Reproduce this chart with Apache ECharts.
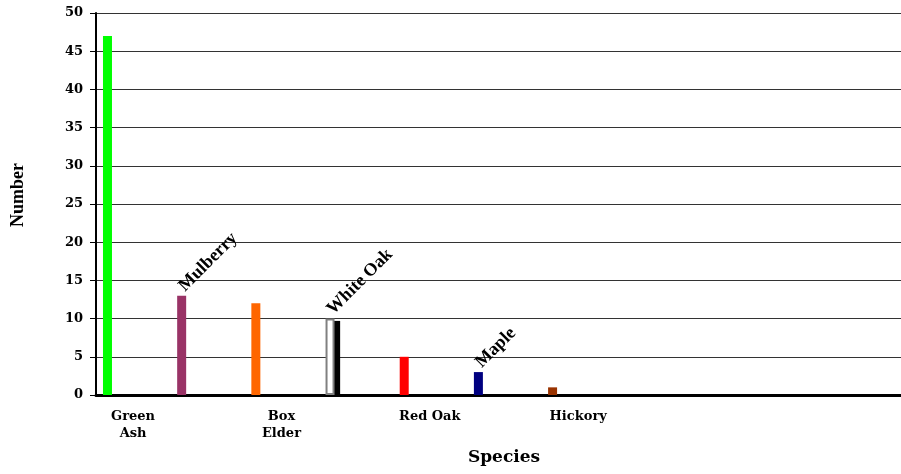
<!DOCTYPE html>
<html>
<head>
<meta charset="utf-8">
<script src="https://cdn.jsdelivr.net/npm/echarts@6/dist/echarts.min.js"></script>
<style>html,body{margin:0;padding:0;background:#fff;overflow:hidden;}#c{width:901px;height:474px;}</style>
</head>
<body>
<div id="c"></div>
<script>
var axisLabels = ['Green\nAsh', '', 'Box\nElder', '', 'Red Oak', '', 'Hickory', '', '', '', ''];
var species = ['Green Ash', 'Mulberry', 'Box Elder', 'White Oak', 'Red Oak', 'Maple', 'Hickory'];
var counts = [47, 13, 12, 10, 5, 3, 1];
var barColors = ['#00ff00', '#993366', '#ff6600', '#ffffff', '#ff0000', '#000080', '#993300'];
var topLabels = ['', 'Mulberry', '', 'White Oak', '', 'Maple', ''];
var yTicks = [0, 5, 10, 15, 20, 25, 30, 35, 40, 45, 50];

var serif = '"Liberation Serif", "Times New Roman", serif';
var wideSerif = '"DejaVu Serif", serif';
var cats = axisLabels.map(function (l, i) { return 'c' + i; });
var data = cats.map(function (c, i) {
  if (i >= counts.length) return null;
  var item = { value: counts[i], name: species[i], itemStyle: { color: barColors[i] } };
  if (species[i] === 'White Oak') {
    item.itemStyle = { color: '#ffffff', borderColor: '#808080', borderWidth: 2 };
  }
  item.label = { show: !!topLabels[i], formatter: topLabels[i] };
  return item;
});
// shadow behind the White Oak bar
var shadowData = cats.map(function (c, i) {
  return species[i] === 'White Oak' ? counts[i] : null;
});

var chart = echarts.init(document.getElementById('c'), null, { renderer: 'canvas' });
chart.setOption({
  animation: false,
  backgroundColor: '#fff',
  grid: { left: 96, top: 13, width: 816, height: 382, containLabel: false, outerBoundsMode: 'none' },
  xAxis: {
    type: 'category', data: cats,
    axisLine: { lineStyle: { color: '#000', width: 3 } },
    axisTick: { show: false },
    axisLabel: {
      interval: 0, margin: 13, color: '#000', fontFamily: wideSerif, fontWeight: 'bold', fontSize: 13, lineHeight: 17,
      verticalAlign: 'top',
      formatter: function (v, i) { return axisLabels[i]; }
    },
    name: 'Species', nameLocation: 'middle', nameGap: 54,
    nameTextStyle: { color: '#000', fontFamily: wideSerif, fontWeight: 'bold', fontSize: 17 }
  },
  yAxis: {
    type: 'value', min: 0, max: 50, interval: 5,
    axisLine: { show: true, lineStyle: { color: '#000', width: 2 } },
    axisTick: { show: true, length: 6, lineStyle: { color: '#000', width: 1 } },
    axisLabel: { margin: 13, color: '#000', fontFamily: wideSerif, fontWeight: 'bold', fontSize: 13,
      formatter: function (v) { return yTicks.indexOf(v) >= 0 ? String(v) : ''; } },
    splitLine: { show: true, lineStyle: { color: '#333', width: 1 } },
    name: 'Number', nameLocation: 'middle', nameGap: 69, nameRotate: 90,
    nameTextStyle: { color: '#000', fontFamily: serif, fontWeight: 'bold', fontSize: 18, padding: [0, 0, 0, 18] }
  },
  series: [
    {
      type: 'bar', data: data, barWidth: 9, barGap: '469%', z: 3,
      label: { show: true, position: 'top', distance: 7, rotate: 45, align: 'left', verticalAlign: 'middle',
        color: '#000', fontFamily: serif, fontWeight: 'bold', fontSize: 18 }
    },
    { type: 'bar', data: [], barWidth: 9 },
    {
      type: 'pictorialBar', data: shadowData, symbol: 'rect', symbolSize: [9, '97%'],
      symbolOffset: [-20, 0], symbolPosition: 'start', z: 2,
      itemStyle: { color: '#000' }, label: { show: false }
    }
  ]
});
</script>
</body>
</html>
